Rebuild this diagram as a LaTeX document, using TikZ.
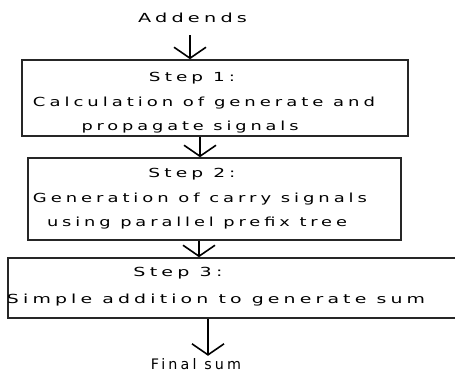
\documentclass[tikz,border=0pt]{standalone}
\usepackage{fontspec}
\setmainfont{DejaVu Sans}[LetterSpace=22]
\usetikzlibrary{arrows.meta}
% set one line of text to a given width, keeping its height
\newcommand{\fitw}[2]{\resizebox{#1}{\height}{#2}}
\begin{document}
\begin{tikzpicture}[x=1pt,y=-1pt,
  lbl/.style={inner sep=0pt, anchor=base, font=\fontsize{12.5}{14}\selectfont, text=black},
  stepbox/.style={draw=black!85, line width=1.6pt, inner sep=0pt},
  flow/.style={line width=2.6pt, black,
    -{Straight Barb[length=11pt,width=32pt,line width=1.6pt]}}]
\useasboundingbox (0,0) rectangle (455,373);
\begin{scope}
\clip (0,0) rectangle (455,373);

% the three step boxes
\node[stepbox, minimum width=386pt, minimum height=76pt] (b1) at (215,98) {};
\node[stepbox, minimum width=373pt, minimum height=82pt] (b2) at (214.5,199) {};
\node[stepbox, minimum width=480pt, minimum height=60pt] (b3) at (248,288) {};

% input and output labels
\node[lbl] (add) at (192.5,22) {\fitw{109pt}{Addends}};
\node[lbl, font=\fontsize{14.5}{17}\selectfont] (fin) at (196,369.5) {\fitw{90pt}{Final sum}};

% step 1 text
\node[lbl] (s1) at (192,81) {\fitw{86pt}{Step 1:}};
\node[lbl] (s1a) at (204,106) {\fitw{342pt}{Calculation of generate and}};
\node[lbl] (s1b) at (190,130) {\fitw{217pt}{propagate signals}};

% step 2 text
\node[lbl] (s2) at (192,177) {\fitw{87pt}{Step 2:}};
\node[lbl] (s2a) at (200,202.5) {\fitw{334pt}{Generation of carry signals}};
\node[lbl] (s2b) at (197,226) {\fitw{300pt}{using parallel prefix tree}};

% step 3 text
\node[lbl] (s3) at (178,276.5) {\fitw{89pt}{Step 3:}};
\node[lbl] (s3a) at (216,303) {\fitw{418pt}{Simple addition to generate sum}};

% flow arrows
\draw[flow] ([xshift=-2.5pt,yshift=-13pt]add.south) -- ([xshift=-2.5pt]add.south |- b1.north);
\draw[flow] ([xshift=-15pt]b1.south) -- ([xshift=-15pt]b1.south |- b2.north);
\draw[flow] ([xshift=-15.5pt]b2.south) -- ([xshift=-15.5pt]b2.south |- b3.north);
\draw[flow] ([xshift=-40pt]b3.south) -- ([xshift=-40pt,yshift=-37pt]b3.south);
\end{scope}
\end{tikzpicture}
\end{document}
